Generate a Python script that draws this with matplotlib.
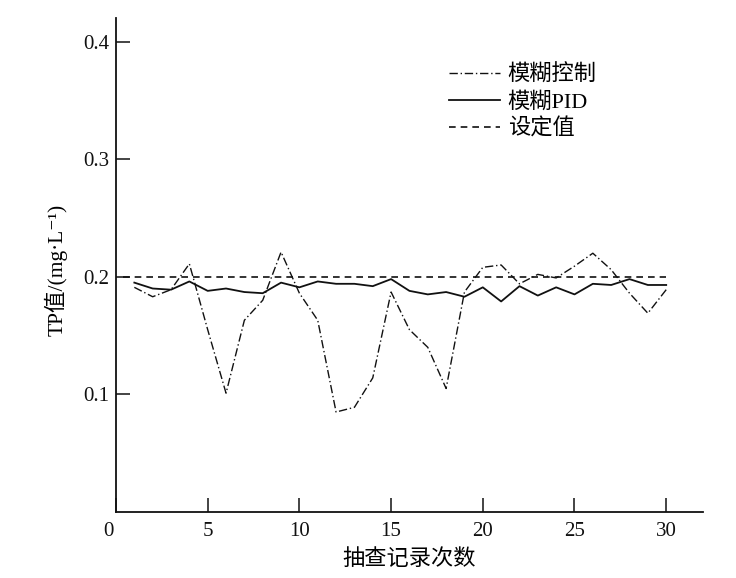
import matplotlib
matplotlib.use("Agg")
import matplotlib.pyplot as plt
import matplotlib.transforms as mtransforms

plt.rcParams['font.family'] = ['Liberation Serif', 'Noto Sans CJK SC', 'DejaVu Sans']

samples = list(range(1, 31))
fuzzy_ctrl = [0.191, 0.183, 0.189, 0.211, 0.155, 0.101, 0.163, 0.180, 0.221, 0.186,
              0.163, 0.085, 0.089, 0.114, 0.187, 0.155, 0.140, 0.105, 0.187, 0.208,
              0.210, 0.194, 0.202, 0.199, 0.209, 0.220, 0.206, 0.186, 0.169, 0.189]
fuzzy_pid = [0.195, 0.190, 0.189, 0.196, 0.188, 0.190, 0.187, 0.186, 0.195, 0.191,
             0.196, 0.194, 0.194, 0.192, 0.198, 0.188, 0.185, 0.187, 0.183, 0.191,
             0.179, 0.192, 0.184, 0.191, 0.185, 0.194, 0.193, 0.198, 0.193, 0.193]
setpoint_x = [0.4, 30]
setpoint_y = [0.2, 0.2]
legend_labels = ['模糊控制', '模糊PID', '设定值']
xticks = [0, 5, 10, 15, 20, 25, 30]
yticks = [0.1, 0.2, 0.3, 0.4]

fig = plt.figure(figsize=(7.36, 5.78), dpi=100)
ax = fig.add_axes([0.1576, 0.1142, 0.955 - 0.1576, 0.9689 - 0.1142])

ax.plot(samples, fuzzy_ctrl, color='#111111', lw=1.0, linestyle=(0, (6, 2, 1, 2)),
        label=legend_labels[0])
ax.plot(samples, fuzzy_pid, color='#111111', lw=1.3, linestyle='-', label=legend_labels[1])
ax.plot(setpoint_x, setpoint_y, color='#111111', lw=1.2, linestyle=(0, (4, 3)),
        label=legend_labels[2])

ax.set_xlim(0, 32)
ax.set_ylim(0, 0.42)
ax.set_xticks(xticks)
ax.set_xticklabels([str(t) for t in xticks])
ax.set_yticks(yticks)
ax.set_yticklabels([f'{t:.1f}' for t in yticks])

for s in ['top', 'right']:
    ax.spines[s].set_visible(False)
for s in ['left', 'bottom']:
    ax.spines[s].set_linewidth(1.3)
    ax.spines[s].set_color('#111111')

ax.tick_params(axis='both', direction='in', length=10, width=1.1, colors='#111111',
               labelsize=15, pad=5)
ax.tick_params(axis='x', pad=7)

# shift the origin label "0" slightly left, as in the reference
lbl0 = ax.get_xticklabels()[0]
lbl0.set_transform(lbl0.get_transform() +
                   mtransforms.ScaledTranslation(-8 / 100, 0, fig.dpi_scale_trans))

ax.set_xlabel('抽查记录次数', fontsize=16, labelpad=6)
ax.set_ylabel('TP值/(mg·L⁻¹)', fontsize=15.5)
ax.yaxis.set_label_coords(-0.083, 0.49)

ax.legend(loc='upper left', bbox_to_anchor=(0.567, 0.905), frameon=False,
          fontsize=16, handlelength=2.3, handletextpad=0.35, labelspacing=0.27,
          borderaxespad=0, borderpad=0)

fig.savefig('out.png', dpi=100)
